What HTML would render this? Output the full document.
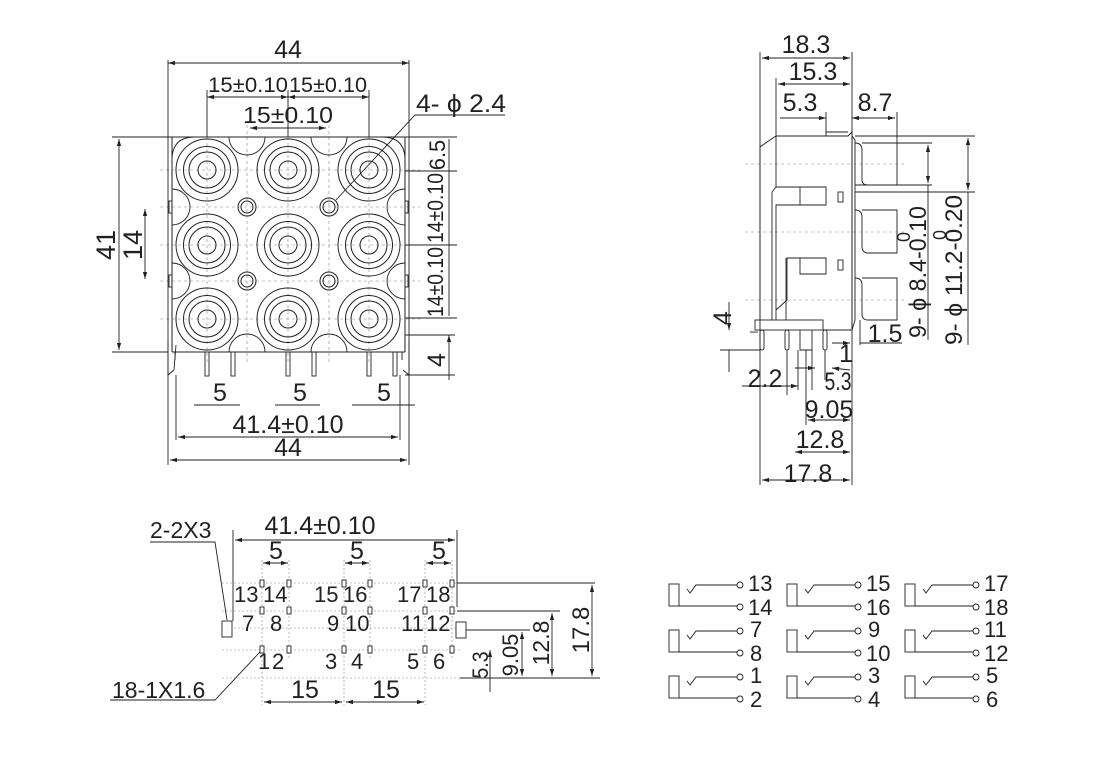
<!DOCTYPE html>
<html><head><meta charset="utf-8"><style>
html,body{margin:0;padding:0;background:#fff}
svg{display:block}
text{font-family:"Liberation Sans",sans-serif;fill:#231f20}
</style></head><body>
<svg width="1120" height="770" viewBox="0 0 1120 770" xmlns="http://www.w3.org/2000/svg">
<defs>
<marker id="a" viewBox="0 0 10 6" refX="10" refY="3" markerWidth="8" markerHeight="5" orient="auto-start-reverse"><path d="M0,0L10,3L0,6z" fill="#231f20"/></marker>
<g id="jack" fill="none" stroke="#231f20" stroke-width="1">
<circle r="31"/><circle r="23.5"/><circle r="18"/><circle r="9"/>
</g>
<g id="hole" fill="none" stroke="#231f20" stroke-width="1"><circle r="9"/><circle r="6"/></g>
</defs>
<g stroke="#231f20" stroke-width="0.9" fill="none">
<g stroke="#888" stroke-dasharray="3,3" stroke-width="0.6">
<line x1="160" y1="170" x2="420" y2="170"/><line x1="160" y1="245" x2="420" y2="245"/><line x1="160" y1="319" x2="420" y2="319"/>
<line x1="160" y1="207" x2="420" y2="207"/><line x1="160" y1="281" x2="420" y2="281"/>
<line x1="207" y1="125" x2="207" y2="365"/><line x1="288" y1="125" x2="288" y2="365"/><line x1="369" y1="125" x2="369" y2="365"/>
<line x1="247" y1="125" x2="247" y2="365"/><line x1="329" y1="125" x2="329" y2="365"/>
</g>
<path d="M172,352 L172,137 L405,137 L405,352 M172,352 L405,352" stroke-width="1"/>
<path d="M172,160 Q172,137 195,137 M382,137 Q405,137 405,160" />
<path d="M175,352 L175,360 M402,352 L402,360"/>
<path d="M229,137 A18,18 0 0 0 265,137 M311,137 A18,18 0 0 0 347,137"/>
<path d="M172,189 A18,18 0 0 1 172,225 M172,263 A18,18 0 0 1 172,299 M405,189 A18,18 0 0 0 405,225 M405,263 A18,18 0 0 0 405,299"/>
<path d="M229,352 A18,18 0 0 1 265,352 M311,352 A18,18 0 0 1 347,352"/>
<use href="#jack" x="207" y="170"/><use href="#jack" x="288" y="170"/><use href="#jack" x="369" y="170"/>
<use href="#jack" x="207" y="245"/><use href="#jack" x="288" y="245"/><use href="#jack" x="369" y="245"/>
<use href="#jack" x="207" y="319"/><use href="#jack" x="288" y="319"/><use href="#jack" x="369" y="319"/>
<use href="#hole" x="247" y="207"/><use href="#hole" x="329" y="207"/><use href="#hole" x="247" y="281"/><use href="#hole" x="329" y="281"/>
<rect x="169" y="201" width="3" height="12"/><rect x="169" y="275" width="3" height="12"/><rect x="405" y="201" width="3" height="12"/><rect x="405" y="275" width="3" height="12"/>
<rect x="205" y="352" width="4" height="24"/><rect x="231" y="352" width="4" height="24"/>
<rect x="286" y="352" width="4" height="24"/><rect x="312" y="352" width="4" height="24"/>
<rect x="367" y="352" width="4" height="24"/><rect x="393" y="352" width="4" height="24"/>
<path d="M168,340 L168,375 L174,370 L176,345 M409,340 L409,375 L403,370"/>
<line x1="168" y1="60" x2="168" y2="465"/><line x1="409" y1="60" x2="409" y2="465"/>
<line x1="168" y1="63" x2="409" y2="63" marker-start="url(#a)" marker-end="url(#a)"/>
<line x1="207" y1="90" x2="207" y2="137"/><line x1="288" y1="90" x2="288" y2="137"/><line x1="369" y1="90" x2="369" y2="137"/>
<line x1="207" y1="97" x2="288" y2="97" marker-start="url(#a)" marker-end="url(#a)"/>
<line x1="288" y1="97" x2="369" y2="97" marker-start="url(#a)" marker-end="url(#a)"/>
<line x1="250" y1="128" x2="326" y2="128" marker-start="url(#a)" marker-end="url(#a)"/>
<path d="M505,115 L415,115 L336,200"/>
<line x1="112" y1="137" x2="172" y2="137"/><line x1="112" y1="352" x2="168" y2="352"/>
<line x1="119" y1="139" x2="119" y2="350" marker-start="url(#a)" marker-end="url(#a)"/>
<line x1="145" y1="209" x2="145" y2="279" marker-start="url(#a)" marker-end="url(#a)"/>
<line x1="405" y1="137" x2="457" y2="137"/><line x1="405" y1="171" x2="457" y2="171"/><line x1="405" y1="245" x2="457" y2="245"/><line x1="405" y1="318" x2="457" y2="318"/>
<line x1="449" y1="139" x2="449" y2="316"/>
<line x1="405" y1="335" x2="455" y2="335"/><line x1="405" y1="375" x2="455" y2="375"/>
<line x1="449" y1="335" x2="449" y2="380" marker-start="url(#a)"/>
<line x1="194" y1="405" x2="240" y2="405"/><line x1="275" y1="405" x2="320" y2="405"/><line x1="352" y1="405" x2="415" y2="405"/>
<line x1="176" y1="375" x2="176" y2="440"/><line x1="400" y1="375" x2="400" y2="440"/>
<line x1="178" y1="437" x2="398" y2="437" marker-start="url(#a)" marker-end="url(#a)"/>
<line x1="170" y1="460" x2="407" y2="460" marker-start="url(#a)" marker-end="url(#a)"/>

<g stroke="#888" stroke-dasharray="3,3" stroke-width="0.6">
<line x1="745" y1="164" x2="905" y2="164"/><line x1="745" y1="232" x2="905" y2="232"/><line x1="745" y1="300" x2="905" y2="300"/>
</g>
<path d="M776,136 L848,136 L852,132 L852,330 L823,330" stroke-width="1"/>
<path d="M826,136 L826,132 L848,132"/>
<path d="M852,136 L855,140 L855,320 L852,330"/>
<path d="M776,136 L770,140 L760,147 L760,320"/>
<path d="M776,136 L776,187"/>
<path d="M776,187 L772,192 L772,320 M776,187 L826,187 L826,205 L776,205 L776,320"/>
<path d="M800,187 L800,205 M800,258 L800,274 L826,274 L826,258 L787,258 L787,300 L776,310"/>
<path d="M786,258 L786,320"/>
<rect x="838" y="192" width="5" height="10"/><rect x="838" y="260" width="5" height="10"/>
<path d="M855,143 Q862,143 862,150 L862,180 Q862,185 868,185 L897,185 L897,143 L862,143"/>
<path d="M855,210 Q862,210 862,217 L862,246 Q862,253 868,253 L897,253 L897,210 L862,210"/>
<path d="M855,278 Q862,278 862,285 L862,314 Q862,320 868,320 L897,320 L897,278 L862,278"/>
<rect x="755" y="320" width="68" height="10"/>
<path d="M800,330 L800,350 L812,350 L812,330"/>
<rect x="760" y="330" width="4" height="20" rx="2"/><rect x="785" y="330" width="4" height="20" rx="2"/><rect x="823" y="330" width="4" height="20" rx="2"/>
<line x1="760" y1="52" x2="760" y2="485"/><line x1="852" y1="52" x2="852" y2="485"/>
<line x1="762" y1="58" x2="850" y2="58" marker-start="url(#a)" marker-end="url(#a)"/>
<line x1="776" y1="78" x2="776" y2="136"/>
<line x1="778" y1="84" x2="850" y2="84" marker-start="url(#a)" marker-end="url(#a)"/>
<line x1="826" y1="112" x2="826" y2="132"/><line x1="897" y1="112" x2="897" y2="143"/>
<line x1="780" y1="118" x2="826" y2="118" marker-end="url(#a)"/>
<line x1="852" y1="118" x2="895" y2="118" marker-start="url(#a)" marker-end="url(#a)"/>
<line x1="897" y1="143" x2="932" y2="143"/><line x1="855" y1="185" x2="932" y2="185"/>
<line x1="928" y1="145" x2="928" y2="183" marker-start="url(#a)" marker-end="url(#a)"/>
<line x1="928" y1="185" x2="928" y2="340"/>
<line x1="855" y1="136" x2="975" y2="136"/><line x1="855" y1="192" x2="975" y2="192"/>
<line x1="968" y1="138" x2="968" y2="190" marker-start="url(#a)" marker-end="url(#a)"/>
<line x1="968" y1="192" x2="968" y2="345"/>
<line x1="860" y1="343" x2="902" y2="343"/><line x1="860" y1="320" x2="860" y2="345"/>
<line x1="832" y1="343" x2="850" y2="343" marker-end="url(#a)"/>
<line x1="750" y1="332" x2="758" y2="332"/><line x1="720" y1="350" x2="760" y2="350"/>
<line x1="729" y1="302" x2="729" y2="330" marker-end="url(#a)"/><line x1="729" y1="350" x2="729" y2="372"/>
<line x1="742" y1="386" x2="798" y2="386" marker-end="url(#a)"/><line x1="787" y1="350" x2="787" y2="395"/>
<line x1="798" y1="350" x2="798" y2="390"/><line x1="812" y1="350" x2="812" y2="390"/>
<line x1="795" y1="368" x2="815" y2="368" marker-end="url(#a)"/>
<line x1="825" y1="350" x2="825" y2="380"/><line x1="850" y1="370" x2="832" y2="368" marker-end="url(#a)"/>
<line x1="808" y1="420" x2="850" y2="420" marker-start="url(#a)" marker-end="url(#a)"/>
<line x1="806" y1="350" x2="806" y2="425"/>
<line x1="795" y1="452" x2="850" y2="452" marker-start="url(#a)" marker-end="url(#a)"/>
<line x1="762" y1="480" x2="850" y2="480" marker-start="url(#a)" marker-end="url(#a)"/>

<g stroke="#888" stroke-dasharray="2,2" stroke-width="0.6">
<line x1="222" y1="583" x2="460" y2="583"/><line x1="222" y1="611" x2="460" y2="611"/><line x1="222" y1="650" x2="460" y2="650"/><line x1="222" y1="628" x2="460" y2="628"/><line x1="222" y1="678" x2="600" y2="678"/>
<line x1="262" y1="560" x2="262" y2="705"/><line x1="289" y1="560" x2="289" y2="660"/><line x1="344" y1="560" x2="344" y2="705"/><line x1="370" y1="560" x2="370" y2="660"/><line x1="425" y1="560" x2="425" y2="705"/><line x1="452" y1="560" x2="452" y2="660"/>
</g>
<g fill="#fff">
<rect x="260" y="580" width="4" height="7"/><rect x="287" y="580" width="4" height="7"/><rect x="342" y="580" width="4" height="7"/><rect x="368" y="580" width="4" height="7"/><rect x="423" y="580" width="4" height="7"/><rect x="450" y="580" width="4" height="7"/>
<rect x="260" y="607" width="4" height="7"/><rect x="287" y="607" width="4" height="7"/><rect x="342" y="607" width="4" height="7"/><rect x="368" y="607" width="4" height="7"/><rect x="423" y="607" width="4" height="7"/><rect x="450" y="607" width="4" height="7"/>
<rect x="260" y="646" width="4" height="7"/><rect x="287" y="646" width="4" height="7"/><rect x="342" y="646" width="4" height="7"/><rect x="368" y="646" width="4" height="7"/><rect x="423" y="646" width="4" height="7"/><rect x="450" y="646" width="4" height="7"/>
<rect x="222" y="621" width="10" height="16"/><rect x="456" y="622" width="10" height="16"/>
</g>
<line x1="233" y1="530" x2="233" y2="621"/><line x1="457" y1="530" x2="457" y2="607"/>
<line x1="235" y1="540" x2="455" y2="540" marker-start="url(#a)" marker-end="url(#a)"/>
<line x1="263" y1="563" x2="288" y2="563" marker-start="url(#a)" marker-end="url(#a)"/>
<line x1="345" y1="563" x2="369" y2="563" marker-start="url(#a)" marker-end="url(#a)"/>
<line x1="426" y1="563" x2="451" y2="563" marker-start="url(#a)" marker-end="url(#a)"/>
<line x1="264" y1="702" x2="342" y2="702" marker-start="url(#a)" marker-end="url(#a)"/>
<line x1="346" y1="702" x2="424" y2="702" marker-start="url(#a)" marker-end="url(#a)"/>
<path d="M150,542 L215,542 L227,620"/>
<path d="M110,700 L215,700 L260,652"/>
<line x1="457" y1="583" x2="595" y2="583"/><line x1="457" y1="611" x2="560" y2="611"/><line x1="466" y1="630" x2="530" y2="630"/><line x1="460" y1="678" x2="600" y2="678"/>
<line x1="490" y1="650" x2="490" y2="692" marker-start="url(#a)"/>
<line x1="522" y1="632" x2="522" y2="676" marker-start="url(#a)" marker-end="url(#a)"/>
<line x1="552" y1="613" x2="552" y2="676" marker-start="url(#a)" marker-end="url(#a)"/>
<line x1="592" y1="585" x2="592" y2="676" marker-start="url(#a)" marker-end="url(#a)"/>

<g id="sch">
<rect x="669" y="584" width="10" height="22"/>
<path d="M679,606 L737,606 M687,589 L690,593 L696,585 L737,585"/>
<circle cx="740" cy="585" r="3"/><circle cx="740" cy="607" r="3"/>
</g>
<use href="#sch" x="118" y="0"/><use href="#sch" x="236" y="0"/>
<use href="#sch" x="0" y="46"/><use href="#sch" x="118" y="46"/><use href="#sch" x="236" y="46"/>
<use href="#sch" x="0" y="92"/><use href="#sch" x="118" y="92"/><use href="#sch" x="236" y="92"/>
</g>

<g font-size="25">
<text x="288" y="58" text-anchor="middle">44</text>
<text x="248" y="92" text-anchor="middle" font-size="21" textLength="80" lengthAdjust="spacingAndGlyphs">15±0.10</text>
<text x="328" y="92" text-anchor="middle" font-size="21" textLength="78" lengthAdjust="spacingAndGlyphs">15±0.10</text>
<text x="288" y="123" text-anchor="middle" font-size="23" textLength="90" lengthAdjust="spacingAndGlyphs">15±0.10</text>
<text x="416" y="112" textLength="90" lengthAdjust="spacingAndGlyphs">4- ϕ 2.4</text>
<text transform="translate(115,245) rotate(-90)" text-anchor="middle" font-size="27">41</text>
<text transform="translate(142,245) rotate(-90)" text-anchor="middle" font-size="27">14</text>
<text transform="translate(445,155) rotate(-90)" text-anchor="middle" font-size="22">6.5</text>
<text transform="translate(443,208) rotate(-90)" text-anchor="middle" font-size="22" textLength="70" lengthAdjust="spacingAndGlyphs">14±0.10</text>
<text transform="translate(443,282) rotate(-90)" text-anchor="middle" font-size="22" textLength="70" lengthAdjust="spacingAndGlyphs">14±0.10</text>
<text transform="translate(445,360) rotate(-90)" text-anchor="middle">4</text>
<text x="220" y="401" text-anchor="middle">5</text>
<text x="300" y="401" text-anchor="middle">5</text>
<text x="384" y="401" text-anchor="middle">5</text>
<text x="288" y="433" text-anchor="middle">41.4±0.10</text>
<text x="288" y="456" text-anchor="middle">44</text>

<text x="806" y="53" text-anchor="middle">18.3</text>
<text x="813" y="80" text-anchor="middle">15.3</text>
<text x="800" y="111" text-anchor="middle">5.3</text>
<text x="875" y="111" text-anchor="middle">8.7</text>
<text transform="translate(926,338) rotate(-90)" font-size="24" textLength="132" lengthAdjust="spacingAndGlyphs">9- ϕ 8.4-0.10</text>
<text transform="translate(910,242) rotate(-90)" font-size="18">0</text>
<text transform="translate(962,345) rotate(-90)" font-size="24" textLength="150" lengthAdjust="spacingAndGlyphs">9- ϕ 11.2-0.20</text>
<text transform="translate(946,240) rotate(-90)" font-size="18">0</text>
<text x="885" y="342" text-anchor="middle">1.5</text>
<text x="846" y="362" text-anchor="middle">1</text>
<text transform="translate(731,318) rotate(-90)" text-anchor="middle">4</text>
<text x="765" y="387" text-anchor="middle">2.2</text>
<text x="838" y="390" text-anchor="middle" textLength="27" lengthAdjust="spacingAndGlyphs">5.3</text>
<text x="829" y="418" text-anchor="middle">9.05</text>
<text x="820" y="448" text-anchor="middle">12.8</text>
<text x="808" y="482" text-anchor="middle">17.8</text>

<text x="150" y="538" font-size="23">2-2X3</text>
<text x="320" y="534" text-anchor="middle">41.4±0.10</text>
<text x="276" y="559" text-anchor="middle">5</text>
<text x="357" y="559" text-anchor="middle">5</text>
<text x="439" y="559" text-anchor="middle">5</text>
<text x="112" y="698" font-size="23">18-1X1.6</text>
<text x="305" y="698" text-anchor="middle">15</text>
<text x="386" y="698" text-anchor="middle">15</text>
<g font-size="22">
<text x="234" y="602">13</text><text x="263" y="602">14</text><text x="314" y="602">15</text><text x="343" y="602">16</text><text x="397" y="602">17</text><text x="426" y="602">18</text>
<text x="242" y="631">7</text><text x="270" y="631">8</text><text x="327" y="631">9</text><text x="345" y="631">10</text><text x="401" y="631">11</text><text x="426" y="631">12</text>
<text x="258" y="669">1</text><text x="272" y="669">2</text><text x="325" y="669">3</text><text x="351" y="669">4</text><text x="407" y="669">5</text><text x="433" y="669">6</text>
</g>
<text transform="translate(488,665) rotate(-90)" text-anchor="middle" font-size="22" textLength="27" lengthAdjust="spacingAndGlyphs">5.3</text>
<text transform="translate(518,655) rotate(-90)" text-anchor="middle" font-size="22">9.05</text>
<text transform="translate(549,643) rotate(-90)" text-anchor="middle" font-size="23">12.8</text>
<text transform="translate(589,630) rotate(-90)" text-anchor="middle" font-size="24">17.8</text>

<g font-size="22">
<text x="748" y="591">13</text><text x="748" y="615">14</text><text x="866" y="591">15</text><text x="866" y="615">16</text><text x="984" y="591">17</text><text x="984" y="615">18</text>
<text x="750" y="637">7</text><text x="750" y="661">8</text><text x="868" y="637">9</text><text x="866" y="661">10</text><text x="984" y="637">11</text><text x="984" y="661">12</text>
<text x="750" y="683">1</text><text x="750" y="707">2</text><text x="868" y="683">3</text><text x="868" y="707">4</text><text x="986" y="683">5</text><text x="986" y="707">6</text>
</g>
</g>
</svg>
</body></html>
